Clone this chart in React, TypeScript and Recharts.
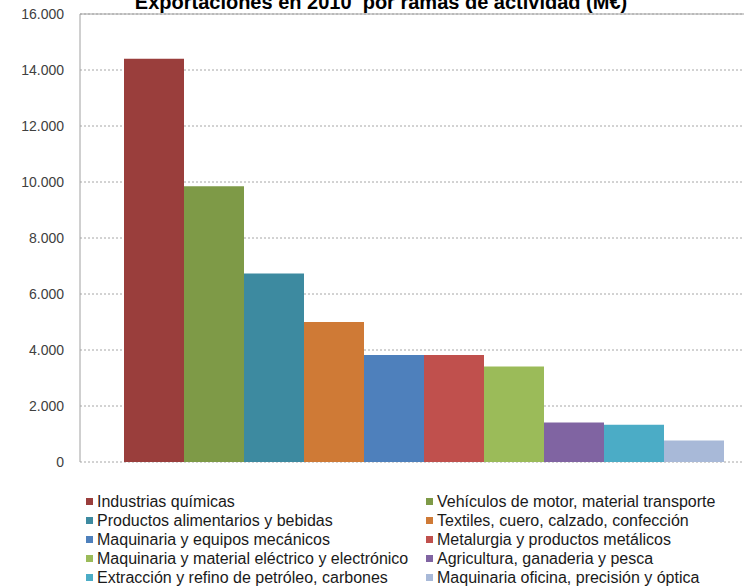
import React from 'react';
import { BarChart, Bar, XAxis, YAxis, CartesianGrid, ReferenceLine } from 'recharts';

const title = 'Exportaciones en 2010  por ramas de actividad (M€)';
const categories = [
  'Industrias químicas',
  'Vehículos de motor, material transporte',
  'Productos alimentarios y bebidas',
  'Textiles, cuero, calzado, confección',
  'Maquinaria y equipos mecánicos',
  'Metalurgia y productos metálicos',
  'Maquinaria y material eléctrico y electrónico',
  'Agricultura, ganaderia y pesca',
  'Extracción y refino de petróleo, carbones',
  'Maquinaria oficina, precisión y óptica',
];
const values = [14400, 9850, 6730, 5000, 3820, 3820, 3410, 1410, 1330, 770];
const colors = [
  '#9A3E3C', '#7E9A47', '#3D8AA0', '#CF7A36', '#4E80BC',
  '#C0504D', '#9BBB59', '#8064A2', '#4BACC6', '#A8B9D8',
];
const yTicks = [0, 2000, 4000, 6000, 8000, 10000, 12000, 14000, 16000];

const row: Record<string, string | number> = { name: '2010' };
values.forEach((v, i) => {
  row['s' + i] = v;
});
const data = [row];

const fmt = (v: number) => v.toLocaleString('de-DE');

export default function App() {
  const font = '"Liberation Sans", Arial, sans-serif';
  return (
    <div style={{ position: 'absolute', left: 0, top: 0, width: 744, height: 587, overflow: 'hidden', background: '#fff', fontFamily: font }}>
      <BarChart
        width={744}
        height={587}
        data={data}
        margin={{ top: 14, right: 0, bottom: 125, left: 0 }}
        barGap={0}
        barCategoryGap={0}
      >
        <CartesianGrid vertical={false} stroke="#A6A6A6" strokeDasharray="2 2" />
        <XAxis
          dataKey="name"
          height={0}
          tick={false}
          tickLine={false}
          axisLine={{ stroke: '#A0A0A0' }}
          padding={{ left: 44, right: 25 }}
        />
        <YAxis
          width={80}
          domain={[0, 16000]}
          ticks={yTicks}
          tickFormatter={fmt}
          tickSize={0}
          tickMargin={16}
          tickLine={false}
          axisLine={{ stroke: '#A0A0A0' }}
          tick={{ fontSize: 14, fill: '#404040', fontFamily: font }}
          interval={0}
        />
        <ReferenceLine y={16000} stroke="#A0A0A0" />
        {categories.map((c, i) => (
          <Bar key={c} dataKey={'s' + i} name={c} fill={colors[i]} isAnimationActive={false} />
        ))}
      </BarChart>
      <svg width={744} height={30} style={{ position: 'absolute', left: 0, top: 0 }}>
        <text x={381} y={9} textAnchor="middle" fontFamily={font} fontWeight="bold" fontSize={20} fill="#000" style={{ whiteSpace: 'pre' }}>
          {title}
        </text>
      </svg>
      {categories.map((c, i) => {
        const col = i % 2;
        const r = Math.floor(i / 2);
        const left = col === 0 ? 86 : 426;
        return (
          <div
            key={c}
            style={{
              position: 'absolute',
              left,
              top: 492 + r * 19,
              height: 19,
              lineHeight: '19px',
              fontSize: 16,
              color: '#1a1a1a',
              whiteSpace: 'nowrap',
              display: 'flex',
              alignItems: 'center',
            }}
          >
            <span style={{ display: 'inline-block', width: 7, height: 7, background: colors[i], marginRight: 4 }} />
            <span>{c}</span>
          </div>
        );
      })}
    </div>
  );
}
